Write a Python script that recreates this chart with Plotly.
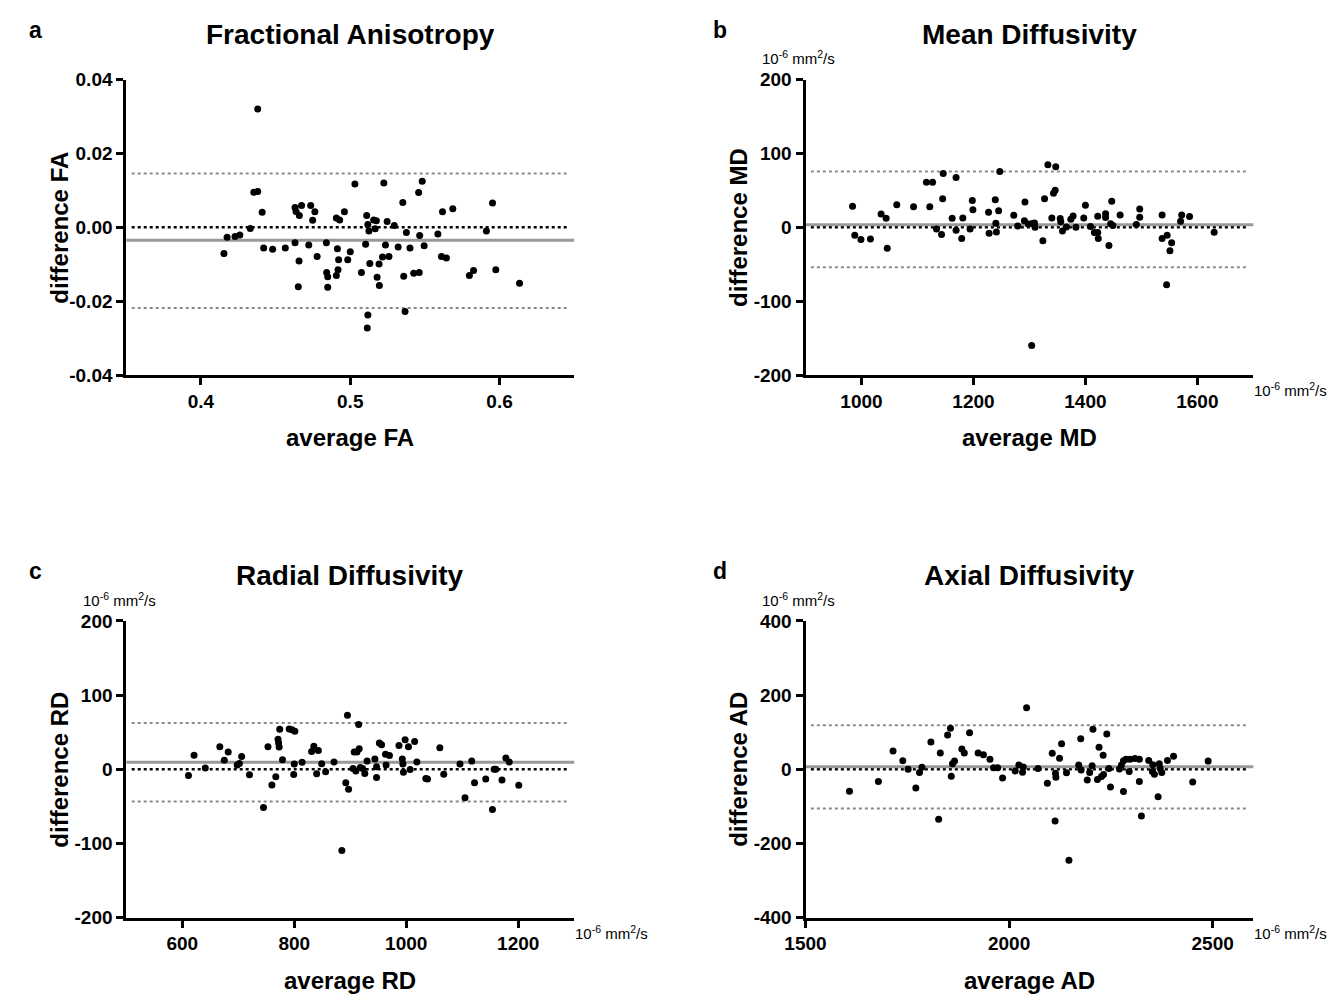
import plotly.graph_objects as go

# ---------------- data ----------------
fa_avg = [0.438, 0.4354, 0.438, 0.441, 0.433, 0.4175, 0.4228, 0.426, 0.4154, 0.442, 0.448, 0.4565,
          0.463, 0.4637, 0.4659, 0.4674, 0.4735, 0.4763, 0.4748, 0.463, 0.4722, 0.4657, 0.4652, 0.4778,
          0.484, 0.4914, 0.4922, 0.4983, 0.500, 0.4842, 0.4849, 0.4849, 0.4907, 0.4918, 0.4907, 0.4929,
          0.4961, 0.5031, 0.5075, 0.5103, 0.511, 0.5118, 0.5125, 0.5131, 0.5118, 0.5114, 0.5157, 0.5175,
          0.5167, 0.5225, 0.5247, 0.5295, 0.5236, 0.5216, 0.5259, 0.5193, 0.518, 0.5195, 0.5376, 0.5352,
          0.5321, 0.540, 0.5465, 0.5495, 0.5458, 0.5482, 0.5358, 0.5425, 0.5462, 0.5367, 0.5587, 0.5618,
          0.5687, 0.5611, 0.5644, 0.5798, 0.5826, 0.5912, 0.5953, 0.5975, 0.6134]
fa_diff = [0.0320, 0.0095, 0.0097, 0.0041, -0.0003, -0.0027, -0.0025, -0.0021, -0.0071, -0.0056, -0.0059, -0.0056,
           0.0054, 0.0043, 0.0032, 0.0059, 0.0059, 0.0042, 0.0019, -0.0042, -0.0048, -0.0091, -0.0161, -0.0079,
           -0.0042, -0.0058, -0.0088, -0.0088, -0.0066, -0.0122, -0.0134, -0.0162, -0.0130, -0.0115, 0.0025, 0.0020,
           0.0042, 0.0117, -0.0122, -0.0046, 0.0032, 0.0008, -0.0010, -0.0098, -0.0237, -0.0272, 0.0020, 0.0018,
           -0.0004, 0.0120, 0.0016, 0.0005, -0.0048, -0.0080, -0.0079, -0.0099, -0.0135, -0.0157, -0.0014, 0.0067,
           -0.0053, -0.0056, -0.0022, -0.0050, 0.0094, 0.0125, -0.0132, -0.0124, -0.0122, -0.0228, -0.0018, 0.0042,
           0.0050, -0.0079, -0.0083, -0.0130, -0.0117, -0.0010, 0.0066, -0.0115, -0.0151]
fa_lines = [-0.0035, 0.0146, -0.0218]   # bias, upper LoA, lower LoA

md_avg = [984, 988, 999, 1016, 1035, 1044, 1046, 1063, 1093, 1116, 1127, 1122, 1134, 1143, 1146, 1145,
          1169, 1162, 1169, 1179, 1181, 1194, 1198, 1199, 1227, 1228, 1239, 1245, 1240, 1241, 1247, 1272,
          1279, 1292, 1291, 1298, 1305, 1309, 1310, 1304, 1324, 1327, 1333, 1347, 1343, 1346, 1340, 1355,
          1356, 1359, 1366, 1374, 1378, 1383, 1397, 1400, 1409, 1416, 1422, 1422, 1423, 1436, 1436, 1442,
          1447, 1445, 1449, 1462, 1491, 1497, 1497, 1537, 1537, 1546, 1554, 1551, 1545, 1570, 1572, 1586, 1630]
md_diff = [28.7, -10.6, -16.3, -15.9, 18.1, 12.3, -28.2, 30.5, 27.8, 60.9, 60.9, 27.8, -2.2, -9.7, 72.8, 38.8,
           67.5, 12.3, -4.0, -15.0, 12.8, -2.2, 36.2, 23.8, 20.3, -7.9, 37.5, 22.5, 5.7, -6.2, 75.5, 16.3,
           1.7, 34.4, 8.9, 4.4, 5.3, 6.0, 0.0, -159.8, -18.1, 38.8, 84.8, 82.1, 46.0, 50.3, 12.8, 11.9,
           7.5, -4.9, 0.4, 11.0, 15.5, 0.0, 12.8, 30.0, 1.3, -7.0, -7.0, 15.0, -15.0, 18.5, 13.2, -24.7,
           35.3, 4.9, 2.6, 16.8, 4.0, 24.8, 13.7, 16.8, -15.0, -10.6, -20.8, -31.8, -77.7, 8.4, 16.8, 14.6, -6.6]
md_lines = [3.5, 75.5, -53.9]

rd_avg = [611, 621, 641, 667, 675, 682, 698, 702, 706, 720, 745, 753, 760, 767, 771, 772, 773, 774, 779,
          791, 796, 801, 800, 799, 814, 831, 835, 843, 840, 849, 856, 871, 885, 895, 915, 892, 897,
          907, 912, 916, 905, 910, 918, 922, 926, 930, 944, 947, 947, 952, 956, 963, 964, 970, 987,
          993, 994, 995, 998, 1004, 1007, 1015, 1019, 1035, 1038, 1060, 1067, 1096, 1105, 1117, 1122,
          1142, 1154, 1157, 1160, 1171, 1178, 1184, 1201]
rd_diff = [-8.4, 18.9, 1.7, 30.5, 12.3, 23.4, 5.7, 7.9, 17.2, -7.5, -51.7, 30.5, -21.2, -10.2, 40.6, 35.3, 30.0, 53.8, 12.8,
           54.3, 53.4, 51.3, 7.0, -7.0, 9.3, 23.8, 30.9, 25.2, -6.2, 7.5, -3.5, 9.8, -109.5, 72.7, 60.5, -18.1, -26.9,
           23.4, 23.4, 27.8, 0.9, -2.2, 2.3, 0.9, -5.7, 11.0, 13.7, 3.5, -11.0, 35.3, 33.1, 20.3, 5.7, 18.5, 32.2,
           13.7, 7.0, -4.0, 39.7, 30.5, -0.4, 37.5, 9.8, -12.3, -13.2, 29.0, -6.6, 7.0, -38.3, 11.0, -18.1,
           -13.2, -54.3, 0.0, 0.0, -14.5, 15.1, 9.8, -21.6]
rd_lines = [9.3, 62.3, -43.3]

ad_avg = [1608, 1679, 1715, 1739, 1752, 1771, 1780, 1786, 1808, 1831, 1827, 1849, 1856, 1858, 1861, 1866,
          1884, 1890, 1903, 1924, 1937, 1953, 1962, 1972, 1984, 2015, 2024, 2035, 2033, 2043, 2071, 2094,
          2106, 2113, 2114, 2115, 2124, 2129, 2141, 2147, 2171, 2177, 2176, 2192, 2198, 2204, 2206, 2217,
          2227, 2232, 2221, 2231, 2240, 2245, 2249, 2271, 2276, 2281, 2287, 2281, 2295, 2297, 2309, 2320,
          2320, 2325, 2343, 2352, 2357, 2353, 2369, 2371, 2375, 2366, 2389, 2404, 2451, 2489]
ad_diff = [-59, -32.7, 49.5, 23, 0, -50.3, -8.8, 5.3, 73.3, 44.2, -135, 92.7, 110.5, -18.5, 15.1, 22,
           54.8, 44.2, 98.8, 44.2, 38.9, 27.3, 4.4, 4.4, -23.8, -4.4, 11.5, 6.2, -7.9, 166, 1.8, -38,
           43.3, -139.5, -10.6, -21.2, 30, 68.9, -9.7, -245.5, 11.5, -1.8, 82.1, -29.1, -8.8, 9.7, 107.8, -27.4,
           -19.4, -14.1, 59.1, 37.9, 95.4, 1.8, -47.7, 0.9, 11.5, 23, 27.3, -60, -6.2, 27.3, 29.1, 27.3,
           -32.7, -126, 23.8, -6.2, -13.2, 12.4, 15.1, 2.6, -8.8, -74.2, 23.8, 35.3, -34.4, 22]
ad_lines = [7.0, 118.4, -106.0]

titles = ["Fractional Anisotropy", "Mean Diffusivity", "Radial Diffusivity", "Axial Diffusivity"]
letters = ["a", "b", "c", "d"]
x_titles = ["average FA", "average MD", "average RD", "average AD"]
y_titles = ["difference FA", "difference MD", "difference RD", "difference AD"]

x_ranges = [[0.35, 0.65], [900, 1700], [500, 1300], [1500, 2600]]
y_ranges = [[-0.04, 0.04], [-200, 200], [-200, 200], [-400, 400]]
x_tickvals = [[0.4, 0.5, 0.6], [1000, 1200, 1400, 1600], [600, 800, 1000, 1200], [1500, 2000, 2500]]
x_ticktext = [["0.4", "0.5", "0.6"], ["1000", "1200", "1400", "1600"], ["600", "800", "1000", "1200"],
              ["1500", "2000", "2500"]]
y_tickvals = [[-0.04, -0.02, 0, 0.02, 0.04], [-200, -100, 0, 100, 200], [-200, -100, 0, 100, 200],
              [-400, -200, 0, 200, 400]]
y_ticktext = [["-0.04", "-0.02", "0.00", "0.02", "0.04"], ["-200", "-100", "0", "100", "200"],
              ["-200", "-100", "0", "100", "200"], ["-400", "-200", "0", "200", "400"]]
unit_text = "10<sup>-6</sup> mm<sup>2</sup>/s"
has_units = [False, True, True, True]

# ---------------- layout helpers ----------------
W, H = 1339, 1003
FONT = "Liberation Sans, Arial, sans-serif"
boxes = [(107, 562, 71, 373), (797, 1252, 71, 373), (107, 562, 624, 927), (797, 1252, 624, 927)]

def fx(p):
    return p / W

def fy(p):
    return 1 - p / H

fig = go.Figure()
datasets = [(fa_avg, fa_diff, fa_lines), (md_avg, md_diff, md_lines),
            (rd_avg, rd_diff, rd_lines), (ad_avg, ad_diff, ad_lines)]

annotations = []
shapes = []
for i, (xs, ys, lines) in enumerate(datasets):
    n = "" if i == 0 else str(i + 1)
    xa, ya = "x" + n, "y" + n
    l, r, t, b = boxes[i]
    fig.add_trace(go.Scatter(x=xs, y=ys, mode="markers", xaxis=xa, yaxis=ya,
                             marker=dict(color="black", size=7), showlegend=False, hoverinfo="skip"))
    axis_common = dict(showline=True, linecolor="black", linewidth=3, ticks="outside", ticklen=7,
                       tickwidth=2.5, tickcolor="black", showgrid=False, zeroline=False,
                       tickfont=dict(family=FONT, size=19, color="black", weight="bold"))
    fig.layout["xaxis" + n] = dict(domain=[fx(l), fx(r)], anchor=ya, range=x_ranges[i],
                                   tickmode="array", tickvals=x_tickvals[i], ticktext=x_ticktext[i],
                                   **axis_common)
    fig.layout["yaxis" + n] = dict(domain=[fy(b), fy(t)], anchor=xa, range=y_ranges[i],
                                   tickmode="array", tickvals=y_tickvals[i], ticktext=y_ticktext[i],
                                   **axis_common)
    bias, up, lo = lines
    shapes.append(dict(type="line", xref=xa + " domain", yref=ya, x0=0.012, x1=0.99, y0=0, y1=0,
                       line=dict(color="black", width=2.5, dash="dot"), layer="below"))
    for v in (up, lo):
        shapes.append(dict(type="line", xref=xa + " domain", yref=ya, x0=0.012, x1=0.99, y0=v, y1=v,
                           line=dict(color="#8a8a8a", width=2, dash="dot"), layer="below"))
    shapes.append(dict(type="line", xref=xa + " domain", yref=ya, x0=0.0, x1=1.0, y0=bias, y1=bias,
                       line=dict(color="#999999", width=3), layer="below"))

    # title & panel letter
    annotations.append(dict(text="<b>" + titles[i] + "</b>", x=fx((l + r) / 2), y=fy(t - 46),
                            xref="paper", yref="paper", showarrow=False, xanchor="center", yanchor="middle",
                            font=dict(family=FONT, size=28, color="black")))
    annotations.append(dict(text="<b>" + letters[i] + "</b>", x=fx(l - 92 if i % 2 == 0 else l - 87),
                            y=fy(t - 51), xref="paper", yref="paper", showarrow=False,
                            xanchor="center", yanchor="middle",
                            font=dict(family=FONT, size=23, color="black")))
    # axis titles
    annotations.append(dict(text="<b>" + x_titles[i] + "</b>", x=fx((l + r) / 2), y=fy(b + 64),
                            xref="paper", yref="paper", showarrow=False, xanchor="center", yanchor="middle",
                            font=dict(family=FONT, size=24, color="black")))
    annotations.append(dict(text="<b>" + y_titles[i] + "</b>", x=fx(l - 68), y=fy((t + b) / 2),
                            xref="paper", yref="paper", showarrow=False, xanchor="center", yanchor="middle",
                            textangle=-90, font=dict(family=FONT, size=24, color="black")))
    if has_units[i]:
        annotations.append(dict(text=unit_text, x=fx(l - 46), y=fy(t - 22), xref="paper", yref="paper",
                                showarrow=False, xanchor="left", yanchor="middle",
                                font=dict(family=FONT, size=15, color="black")))
        annotations.append(dict(text=unit_text, x=fx(r - 1), y=fy(b + 15), xref="paper", yref="paper",
                                showarrow=False, xanchor="left", yanchor="middle",
                                font=dict(family=FONT, size=15, color="black")))

fig.update_layout(width=W, height=H, margin=dict(l=0, r=0, t=0, b=0), plot_bgcolor="white",
                  paper_bgcolor="white", shapes=shapes, annotations=annotations,
                  font=dict(family=FONT, color="black"))
fig.write_html("out.html", config={"displayModeBar": False},
               post_script="document.body.style.margin='0';document.body.style.overflow='hidden';")
